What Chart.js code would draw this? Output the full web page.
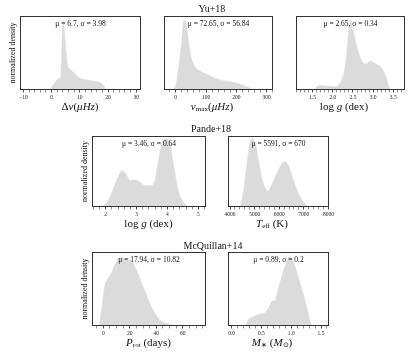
<!DOCTYPE html>
<html>
<head>
<meta charset="utf-8">
<script src="https://cdn.jsdelivr.net/npm/chart.js@4.4.1/dist/chart.umd.min.js"></script>
<style>
  body { margin: 0; background: #fff; }
  #fig { position: relative; width: 415px; height: 356px; overflow: hidden; font-family: "Liberation Serif", serif; color: #111; }
  .c { position: absolute; }
  .t { position: absolute; white-space: nowrap; transform: translate(-50%, -50%); font-size: 10px; line-height: 1; }
  .xl { font-size: 11px; }
  sub { font-size: 65%; vertical-align: -0.25em; line-height: 0; }
</style>
</head>
<body>
<div id="fig"></div>
<script>
// density curves (y = fraction of panel height)
const dnuX = [-0.6, 1.2, 2.4, 3.2, 3.6, 4.1, 4.8, 5.6, 6.9, 10.1, 13.6, 17.2, 18.4, 19.3];
const dnuY = [0, 0.1, 0.15, 0.17, 0.53, 0.95, 0.67, 0.35, 0.27, 0.16, 0.13, 0.10, 0.06, 0];

const numaxX = [-10, 0, 10, 20, 28, 35, 45, 54, 69, 89, 109, 144, 184, 203, 233, 263];
const numaxY = [0, 0.06, 0.31, 0.67, 0.95, 0.88, 0.58, 0.40, 0.29, 0.24, 0.20, 0.14, 0.11, 0.09, 0.045, 0];

const loggYuX = [1.52, 1.67, 1.85, 2.04, 2.19, 2.30, 2.375, 2.43, 2.5, 2.6, 2.71, 2.82, 2.93, 3.04, 3.19, 3.29, 3.38, 3.42];
const loggYuY = [0, 0.06, 0.055, 0.045, 0.1, 0.3, 0.67, 0.95, 0.81, 0.58, 0.40, 0.35, 0.39, 0.36, 0.31, 0.22, 0.06, 0];

const loggPaX = [1.87, 2.08, 2.25, 2.41, 2.54, 2.66, 2.79, 2.95, 3.11, 3.30, 3.46, 3.60, 3.73, 3.86, 3.95, 4.06, 4.19, 4.35, 4.51, 4.67];
const loggPaY = [0, 0.085, 0.26, 0.43, 0.51, 0.46, 0.37, 0.38, 0.35, 0.30, 0.30, 0.38, 0.71, 0.93, 0.96, 0.91, 0.61, 0.23, 0.07, 0];

const teffX = [4400, 4545, 4690, 4815, 4910, 5033, 5153, 5310, 5455, 5540, 5660, 5818, 6025, 6218, 6364, 6545, 6790, 7033, 7215];
const teffY = [0, 0.21, 0.61, 0.91, 0.97, 0.89, 0.66, 0.385, 0.25, 0.22, 0.285, 0.41, 0.56, 0.64, 0.59, 0.41, 0.185, 0.05, 0];

const protX = [-3, -0.5, 1.3, 3.8, 6.3, 8.8, 11.3, 13.9, 16.4, 18.9, 20.7, 23.9, 27.7, 32.8, 37.7, 42.8, 50.3, 60.4, 73];
const protY = [0, 0.32, 0.55, 0.65, 0.72, 0.83, 0.91, 0.93, 0.91, 0.89, 0.89, 0.80, 0.64, 0.41, 0.21, 0.08, 0.023, 0.01, 0];

const mstarX = [0.225, 0.29, 0.375, 0.475, 0.56, 0.625, 0.69, 0.725, 0.775, 0.85, 0.925, 0.975, 1.025, 1.1, 1.2, 1.275, 1.325, 1.35];
const mstarY = [0, 0.09, 0.13, 0.16, 0.18, 0.25, 0.34, 0.34, 0.48, 0.69, 0.87, 0.94, 0.89, 0.71, 0.44, 0.21, 0.04, 0];

// tick labels
const dnuTicks = ['−10', '0', '10', '20', '30'];
const numaxTicks = ['0', '100', '200', '300'];
const loggYuTicks = ['1.5', '2.0', '2.5', '3.0', '3.5'];
const loggPaTicks = ['2', '3', '4', '5'];
const teffTicks = ['4000', '5000', '6000', '7000', '8000'];
const protTicks = ['0', '20', '40', '60'];
const mstarTicks = ['0.0', '0.5', '1.0', '1.5'];

// annotations
const statsText = ['μ = 6.7, σ = 3.98', 'μ = 72.65, σ = 56.84', 'μ = 2.65, σ = 0.34',
  'μ = 3.46, σ = 0.64', 'μ = 5591, σ = 670', 'μ = 17.94, σ = 10.82', 'μ = 0.89, σ = 0.2'];
const rowTitles = ['Yu+18', 'Pande+18', 'McQuillan+14'];

const FONT = '"Liberation Serif", serif';
const FILL = '#dbdbdb';
const PADT = 2, PADB = 14, PADR = 10, PADL = 8, YW = 12;

// box = [left, top, right, bottom] in page pixels
const panels = [
  { box: [20, 16, 140, 89], min: -11.2, max: 31.7, xs: dnuX, ys: dnuY, ticks: dnuTicks, stats: statsText[0], ylab: true,
    xlab: 'Δ<i>ν</i>(<i>μHz</i>)' },
  { box: [152, 16, 272, 89], min: -38.7, max: 321, xs: numaxX, ys: numaxY, ticks: numaxTicks, stats: statsText[1],
    xlab: '<i>ν</i><sub>max</sub>(<i>μHz</i>)' },
  { box: [284, 16, 404, 89], min: 1.087, max: 3.79, xs: loggYuX, ys: loggYuY, ticks: loggYuTicks, stats: statsText[2],
    xlab: 'log <i>g</i> (dex)' },
  { box: [92, 136, 205, 206], min: 1.557, max: 5.246, xs: loggPaX, ys: loggPaY, ticks: loggPaTicks, stats: statsText[3], ylab: true,
    xlab: 'log <i>g</i> (dex)' },
  { box: [216, 136, 328, 206], min: 3916, max: 8025, xs: teffX, ys: teffY, ticks: teffTicks, stats: statsText[4],
    xlab: '<i>T</i><sub>eff</sub> (K)' },
  { box: [92, 252, 205, 325], min: -8.5, max: 77.5, xs: protX, ys: protY, ticks: protTicks, stats: statsText[5], ylab: true,
    xlab: '<i>P</i><sub>rot</sub> (days)' },
  { box: [216, 252, 328, 325], min: -0.06, max: 1.634, xs: mstarX, ys: mstarY, ticks: mstarTicks, stats: statsText[6],
    xlab: '<i>M</i><sub>∗</sub> (<i>M</i><sub>⊙</sub>)' }
];

const fig = document.getElementById('fig');

function addText(html, x, y, cls) {
  const d = document.createElement('div');
  d.className = 't' + (cls ? ' ' + cls : '');
  d.style.left = x + 'px';
  d.style.top = y + 'px';
  d.innerHTML = html;
  fig.appendChild(d);
}

// major ticks from the labels, minor ticks in between
function buildTickList(labels, min, max) {
  const majors = labels.map(l => parseFloat(l.replace('−', '-')));
  const step = majors[1] - majors[0];
  const mant = step / Math.pow(10, Math.floor(Math.log10(step)));
  const ndiv = [1, 2.5, 5, 10].some(v => Math.abs(v - mant) < 1e-6) ? 5 : 4;
  const ms = step / ndiv;
  const out = [];
  for (let n = Math.ceil(min / ms - 1e-9); n * ms <= max + 1e-9; n++) {
    const v = n * ms;
    const k = majors.findIndex(m => Math.abs(m - v) < ms * 1e-3);
    out.push({ value: k >= 0 ? majors[k] : v, major: k >= 0, lab: k >= 0 ? labels[k] : '' });
  }
  return out;
}

const framePlugin = {
  id: 'frame',
  afterDatasetsDraw(chart, args, opts) {
    const { ctx, chartArea: a } = chart;
    ctx.save();
    ctx.strokeStyle = '#333';
    ctx.lineWidth = 1;
    ctx.strokeRect(a.left + 0.5, a.top + 0.5, a.width - 1, a.height - 1);
    ctx.fillStyle = '#111';
    ctx.font = '7.5px ' + FONT;
    ctx.textAlign = 'center';
    ctx.textBaseline = 'middle';
    ctx.fillText(opts.text, (a.left + a.right) / 2, a.top + 8);
    ctx.restore();
  }
};

panels.forEach(p => {
  const [x0, y0, x1, y1] = p.box;
  const padL = p.ylab ? 2 + YW : PADL;
  const w = padL + (x1 - x0 + 1) + PADR;
  const h = PADT + (y1 - y0 + 1) + PADB;
  const cv = document.createElement('canvas');
  cv.className = 'c';
  cv.width = w; cv.height = h;
  cv.style.left = (x0 - padL) + 'px';
  cv.style.top = (y0 - PADT) + 'px';
  cv.style.width = w + 'px';
  cv.style.height = h + 'px';
  fig.appendChild(cv);

  const tickList = buildTickList(p.ticks, p.min, p.max);

  new Chart(cv, {
    type: 'line',
    data: {
      datasets: [{
        data: p.xs.map((x, i) => ({ x: x, y: p.ys[i] })),
        fill: 'origin',
        backgroundColor: FILL,
        borderColor: FILL,
        borderWidth: 0.5,
        pointRadius: 0,
        cubicInterpolationMode: 'monotone'
      }]
    },
    options: {
      responsive: false,
      animation: false,
      devicePixelRatio: 1,
      layout: { padding: { left: p.ylab ? 2 : PADL, right: PADR, top: PADT, bottom: 0 } },
      plugins: { legend: { display: false }, tooltip: { enabled: false }, frame: { text: p.stats } },
      scales: {
        x: {
          type: 'linear',
          min: p.min,
          max: p.max,
          afterBuildTicks: s => { s.ticks = tickList.map(t => Object.assign({}, t)); },
          afterFit: s => { s.height = PADB; s.paddingLeft = 0; s.paddingRight = 0; },
          ticks: {
            autoSkip: false, maxRotation: 0, padding: 1.5, color: '#222',
            font: { family: FONT, size: 5.5 },
            callback: (v, i, ticks) => ticks[i].lab
          },
          grid: {
            drawOnChartArea: false, drawTicks: true, tickLength: 2.5, tickWidth: 0.8,
            tickColor: c => (c.tick && c.tick.major) ? '#222' : '#777'
          },
          border: { display: false }
        },
        y: {
          min: 0, max: 1,
          display: !!p.ylab,
          afterFit: s => { s.width = YW; s.paddingTop = 0; s.paddingBottom = 0; },
          ticks: { display: false },
          grid: { display: false },
          border: { display: false },
          title: { display: true, text: 'normalized density', color: '#111', padding: 0, font: { family: FONT, size: 8 } }
        }
      }
    },
    plugins: [framePlugin]
  });

  addText(p.xlab, (x0 + x1) / 2, y1 + 17, 'xl');
});

addText(rowTitles[0], 212, 9);
addText(rowTitles[1], 211, 129);
addText(rowTitles[2], 213, 246);
</script>
</body>
</html>
